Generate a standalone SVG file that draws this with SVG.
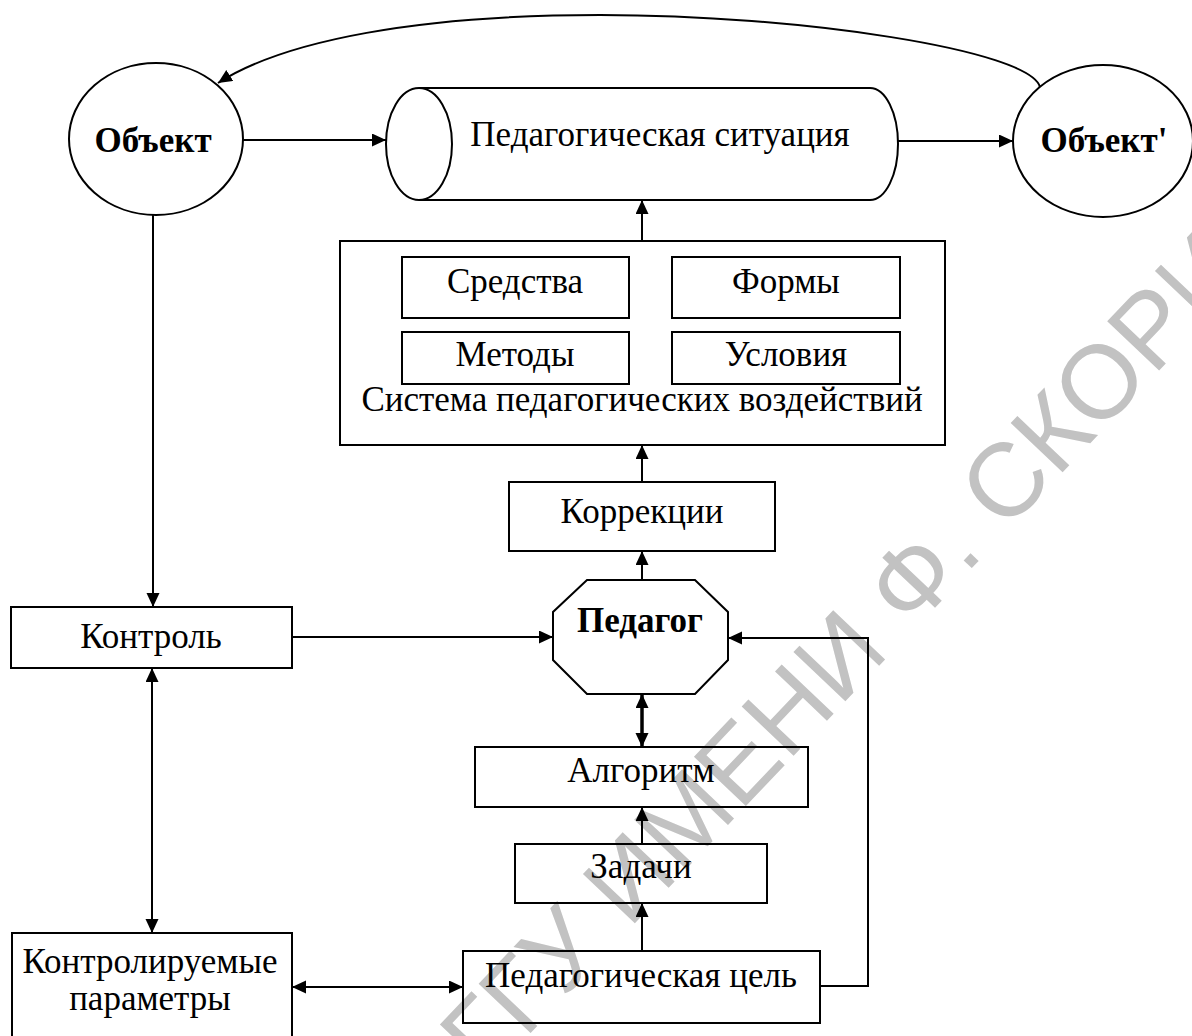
<svg xmlns="http://www.w3.org/2000/svg" width="1192" height="1036" viewBox="0 0 1192 1036">
<style>
.s{fill:none;stroke:#000;stroke-width:2}
.t{font-family:"Liberation Serif","Times New Roman",serif;font-size:35px;fill:#000;text-anchor:middle}
.b{font-weight:bold}
.c{fill:none;stroke:#000;stroke-width:2}
.wm{font-family:"Liberation Sans",Arial,sans-serif;font-size:104px;fill:#c2c2c2}
</style>
<defs>
<marker id="ah" markerUnits="userSpaceOnUse" markerWidth="15" markerHeight="14" refX="14" refY="6.5" orient="auto-start-reverse" viewBox="0 0 15 14">
<path d="M0,0 L14,6.5 L0,13 z" fill="#000"/>
</marker>
</defs>
<rect width="1192" height="1036" fill="#fff"/>
<text class="wm" transform="translate(486,1080) rotate(-46.5)">ГГУ ИМЕНИ Ф. СКОРИ</text>

<g id="obj"><ellipse class="s" cx="156" cy="139" rx="87" ry="76"/><text class="t b" x="153" y="152">Объект</text></g>
<g id="situation"><path class="s" d="M419,88 L870,88 A28,56 0 0 1 870,200 L419,200"/><ellipse class="s" cx="419" cy="144" rx="33" ry="56"/><text class="t" x="660" y="146">Педагогическая ситуация</text></g>
<g id="obj2"><ellipse class="s" cx="1103" cy="141" rx="90" ry="76"/><text class="t b" x="1104" y="152">Объект'</text></g>
<g id="system"><rect class="s" x="340" y="241" width="605" height="204"/><text class="t" x="642" y="411">Система педагогических воздействий</text></g>
<g id="sredstva"><rect class="s" x="402" y="257" width="227" height="61"/><text class="t" x="515" y="293">Средства</text></g>
<g id="formy"><rect class="s" x="672" y="257" width="228" height="61"/><text class="t" x="786" y="293">Формы</text></g>
<g id="metody"><rect class="s" x="402" y="332" width="227" height="52"/><text class="t" x="515" y="366">Методы</text></g>
<g id="usloviya"><rect class="s" x="672" y="332" width="228" height="52"/><text class="t" x="786" y="366">Условия</text></g>
<g id="korr"><rect class="s" x="509" y="482" width="266" height="69"/><text class="t" x="642" y="523">Коррекции</text></g>
<g id="pedagog"><polygon class="s" points="587,580 695,580 728,612 728,660 695,694 587,694 553,660 553,612"/><text class="t b" x="640" y="632">Педагог</text></g>
<g id="kontrol"><rect class="s" x="11" y="607" width="281" height="61"/><text class="t" x="151" y="648">Контроль</text></g>
<g id="algoritm"><rect class="s" x="475" y="747" width="333" height="60"/><text class="t" x="641" y="782">Алгоритм</text></g>
<g id="zadachi"><rect class="s" x="515" y="844" width="252" height="59"/><text class="t" x="641" y="878">Задачи</text></g>
<g id="params"><rect class="s" x="12" y="933" width="280" height="110"/><text class="t" x="150" y="973">Контролируемые</text><text class="t" x="150" y="1010">параметры</text></g>
<g id="cel"><rect class="s" x="463" y="951" width="357" height="72"/><text class="t" x="641" y="987">Педагогическая цель</text></g>

<g id="connectors">
<path class="c" d="M1040,87 C1030,50 800,15 600,15 C420,15 285,40 218,83" marker-end="url(#ah)"/>
<line class="c" x1="243" y1="140" x2="386" y2="140" marker-end="url(#ah)"/>
<line class="c" x1="898" y1="141" x2="1013" y2="141" marker-end="url(#ah)"/>
<line class="c" x1="642" y1="241" x2="642" y2="200" marker-end="url(#ah)"/>
<line class="c" x1="642" y1="482" x2="642" y2="445" marker-end="url(#ah)"/>
<line class="c" x1="642" y1="580" x2="642" y2="551" marker-end="url(#ah)"/>
<line class="c" x1="153" y1="215" x2="153" y2="607" marker-end="url(#ah)"/>
<line class="c" x1="292" y1="637" x2="553" y2="637" marker-end="url(#ah)"/>
<polyline class="c" points="820,986 868,986 868,638 728,638" marker-end="url(#ah)"/>
<line class="c" x1="152" y1="668" x2="152" y2="933" marker-start="url(#ah)" marker-end="url(#ah)"/>
<line class="c" x1="292" y1="987" x2="463" y2="987" marker-start="url(#ah)" marker-end="url(#ah)"/>
<line class="c" style="stroke-width:3.5" x1="642" y1="694" x2="642" y2="747" marker-start="url(#ah)" marker-end="url(#ah)"/>
<line class="c" x1="642" y1="844" x2="642" y2="807" marker-end="url(#ah)"/>
<line class="c" x1="642" y1="951" x2="642" y2="903" marker-end="url(#ah)"/>
</g>
</svg>
